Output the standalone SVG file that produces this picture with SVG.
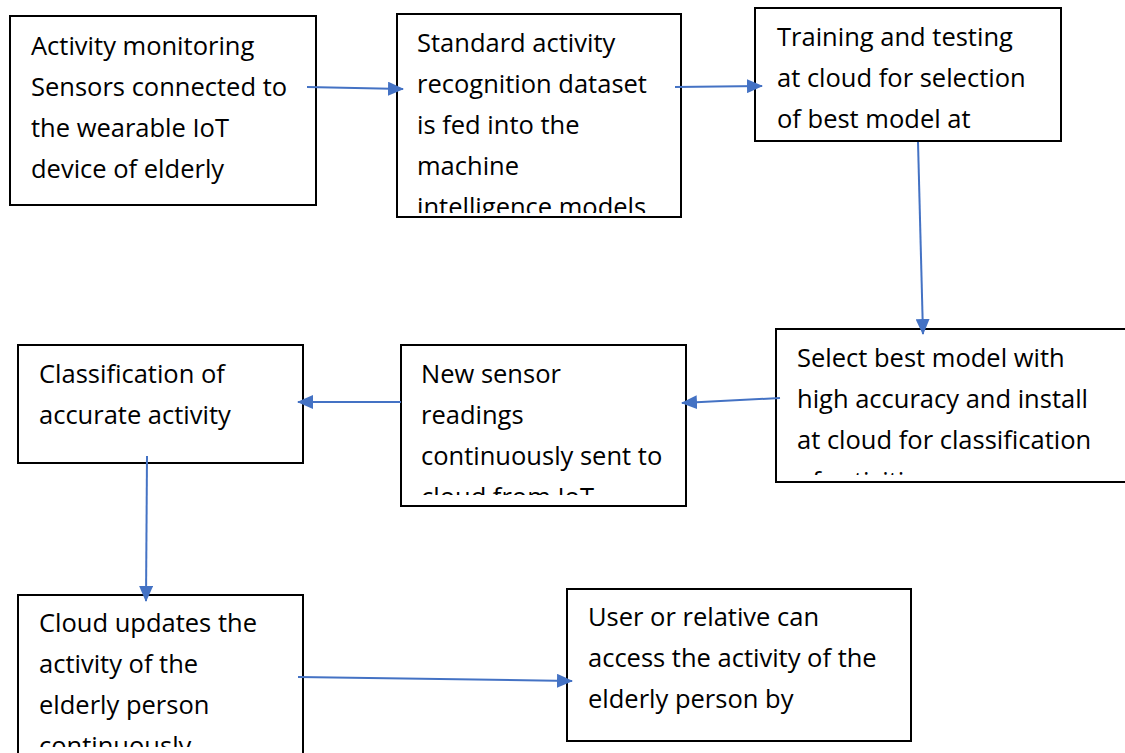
<svg xmlns="http://www.w3.org/2000/svg" width="1125" height="753" viewBox="0 0 1125 753">
  <style>
    .box { fill: #ffffff; stroke: #000000; stroke-width: 2; }
    .lbl { font-family: "Open Sans", "Liberation Sans", Arial, sans-serif; font-size: 25.5px; fill: #000000; }
    .conn { stroke: #4472C4; stroke-width: 2; fill: none; marker-end: url(#arrow); }
  </style>
  <defs>
    <marker id="arrow" markerUnits="userSpaceOnUse" markerWidth="16" markerHeight="14" refX="15" refY="7" orient="auto">
      <path d="M0,0 L16,7 L0,14 Z" fill="#4472C4"/>
    </marker>
    <clipPath id="c2"><rect x="397" y="14" width="284" height="199"/></clipPath>
    <clipPath id="c4"><rect x="776" y="329" width="360" height="146"/></clipPath>
    <clipPath id="c5"><rect x="401" y="345" width="285" height="150"/></clipPath>
    <clipPath id="c7"><rect x="18" y="595" width="285" height="152"/></clipPath>
  </defs>

  <rect width="1125" height="753" fill="#ffffff"/>

  <g id="n1">
    <rect class="box" x="10" y="16" width="306" height="189"/>
    <text class="lbl" x="31" y="55">Activity monitoring</text>
    <text class="lbl" x="31" y="96">Sensors connected to</text>
    <text class="lbl" x="31" y="137">the wearable IoT</text>
    <text class="lbl" x="31" y="178">device of elderly</text>
  </g>

  <g id="n2">
    <rect class="box" x="397" y="14" width="284" height="203"/>
    <g clip-path="url(#c2)">
      <text class="lbl" x="417" y="52">Standard activity</text>
      <text class="lbl" x="417" y="93">recognition dataset</text>
      <text class="lbl" x="417" y="134">is fed into the</text>
      <text class="lbl" x="417" y="175">machine</text>
      <text class="lbl" x="417" y="216">intelligence models</text>
    </g>
  </g>

  <g id="n3">
    <rect class="box" x="755" y="8" width="306" height="133"/>
    <text class="lbl" x="777" y="46">Training and testing</text>
    <text class="lbl" x="777" y="87">at cloud for selection</text>
    <text class="lbl" x="777" y="128">of best model at</text>
  </g>

  <g id="n4">
    <rect class="box" x="776" y="329" width="360" height="153"/>
    <g clip-path="url(#c4)">
      <text class="lbl" x="797" y="367">Select best model with</text>
      <text class="lbl" x="797" y="408">high accuracy and install</text>
      <text class="lbl" x="797" y="449">at cloud for classification</text>
      <text class="lbl" x="797" y="490">of activities</text>
    </g>
  </g>

  <g id="n5">
    <rect class="box" x="401" y="345" width="285" height="161"/>
    <g clip-path="url(#c5)">
      <text class="lbl" x="421" y="383">New sensor</text>
      <text class="lbl" x="421" y="424">readings</text>
      <text class="lbl" x="421" y="465">continuously sent to</text>
      <text class="lbl" x="421" y="506">cloud from IoT</text>
    </g>
  </g>

  <g id="n6">
    <rect class="box" x="18" y="345" width="285" height="118"/>
    <text class="lbl" x="39" y="383">Classification of</text>
    <text class="lbl" x="39" y="424">accurate activity</text>
  </g>

  <g id="n7">
    <rect class="box" x="18" y="595" width="285" height="170"/>
    <g clip-path="url(#c7)">
      <text class="lbl" x="39" y="632">Cloud updates the</text>
      <text class="lbl" x="39" y="673">activity of the</text>
      <text class="lbl" x="39" y="714">elderly person</text>
      <text class="lbl" x="39" y="755">continuously</text>
    </g>
  </g>

  <g id="n8">
    <rect class="box" x="567" y="589" width="344" height="152"/>
    <text class="lbl" x="588" y="626">User or relative can</text>
    <text class="lbl" x="588" y="667">access the activity of the</text>
    <text class="lbl" x="588" y="708">elderly person by</text>
  </g>

  <g id="connectors">
    <line class="conn" x1="307" y1="87" x2="403" y2="89"/>
    <line class="conn" x1="675" y1="87" x2="762" y2="86"/>
    <line class="conn" x1="918" y1="142" x2="923" y2="334"/>
    <line class="conn" x1="780" y1="398" x2="682" y2="403"/>
    <line class="conn" x1="401" y1="402" x2="298" y2="402"/>
    <line class="conn" x1="147" y1="456" x2="146" y2="601"/>
    <line class="conn" x1="298" y1="677" x2="572" y2="681"/>
  </g>
</svg>
